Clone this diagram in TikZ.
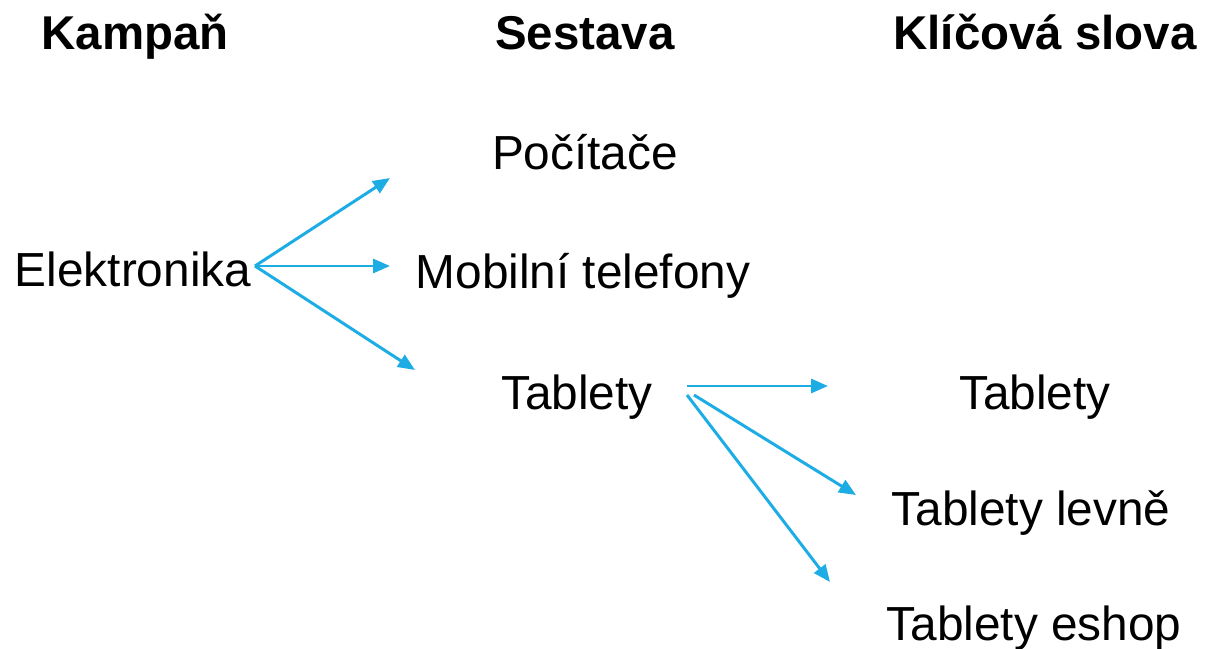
\documentclass[tikz,border=0pt]{standalone}
\usepackage{fontspec}
\setmainfont{Liberation Sans}
\usetikzlibrary{arrows.meta}
\definecolor{arrowblue}{RGB}{29,173,228}
\begin{document}
\begin{tikzpicture}[x=0.02cm,y=-0.02cm,
    lbl/.style={anchor=base,inner sep=0pt,font=\fontsize{27.2}{32}\selectfont},
    head/.style={lbl,font=\fontsize{27}{32}\selectfont\bfseries},
    link/.style={arrowblue,line width=1.7pt,-{Triangle[length=0.34cm,width=0.28cm]}}]
                \useasboundingbox (0,0) rectangle (1205,649);
                %% headings
                \node[head] (kampan) at (135,50) {Kampaň};
                \node[head] (sestava) at (585,50) {Sestava};
                \node[head] (klicova) at (1045,50) {Klíčová slova};
                %% campaign
                \node[lbl] (elektronika) at (133,286) {Elektronika};
                %% sets
                \node[lbl] (pocitace) at (585,169) {Počítače};
                \node[lbl] (mobilni) at (583,288) {Mobilní telefony};
                \node[lbl] (tablety) at (577,409) {Tablety};
                %% keywords
                \node[lbl] (kwtablety) at (1035,409) {Tablety};
                \node[lbl] (kwlevne) at (1031,525) {Tablety levně};
                \node[lbl] (kweshop) at (1034,640) {Tablety eshop};
                %% arrow ends
                \coordinate (s0) at (255,266);
                \coordinate (e1) at (390,178);
                \coordinate (e2) at (390,266);
                \coordinate (e3) at (415,370);
                \coordinate (s1) at (687,386);
                \coordinate (s2) at (694,395);
                \coordinate (s3) at (687,395);
                \coordinate (t1) at (828,386);
                \coordinate (t2) at (856,495);
                \coordinate (t3) at (830,582);
                %% arrows
                \draw[link] (s0) -- (e1);
                \draw[link] (s0) -- (e2);
                \draw[link] (s0) -- (e3);
                \draw[link] (s1) -- (t1);
                \draw[link] (s2) -- (t2);
                \draw[link] (s3) -- (t3);
\end{tikzpicture}
\end{document}
